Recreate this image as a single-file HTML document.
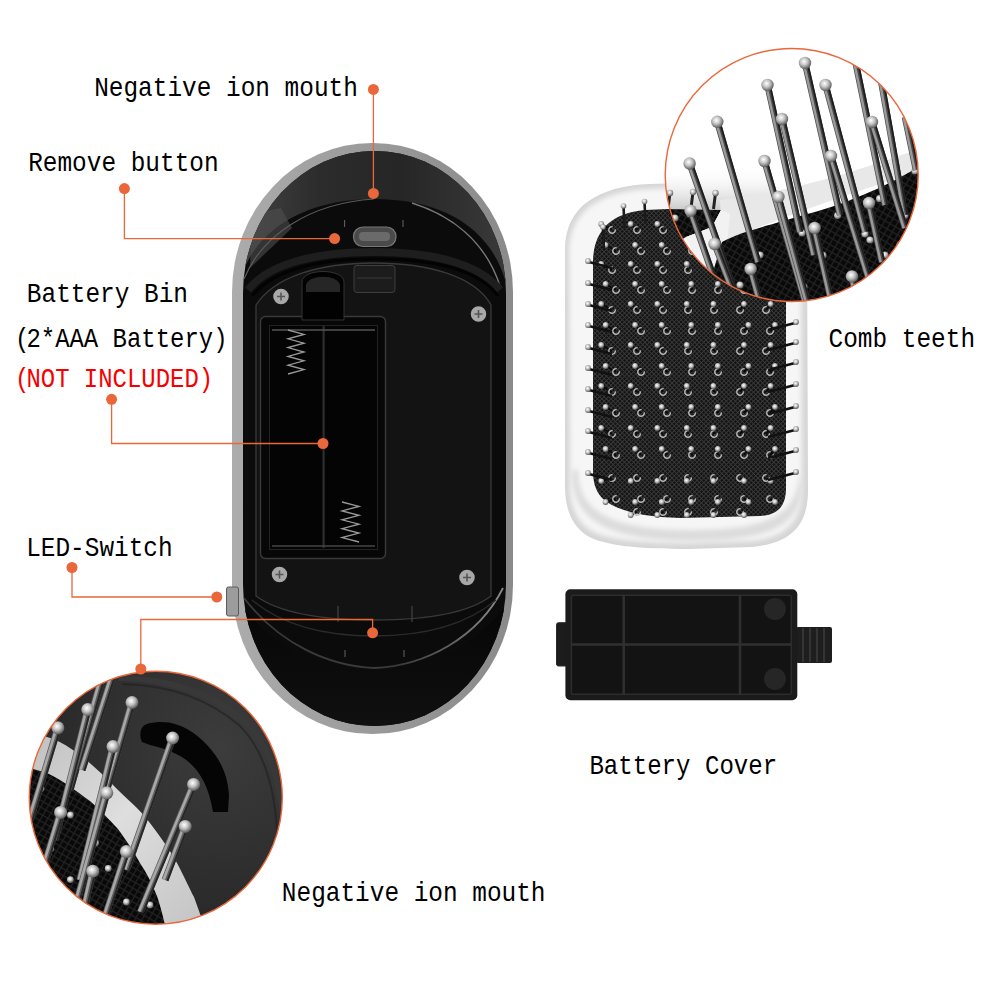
<!DOCTYPE html>
<html><head><meta charset="utf-8">
<style>
html,body{margin:0;padding:0;background:#fff;width:1000px;height:1000px;overflow:hidden}
svg{position:absolute;left:0;top:0;display:block}
text{font-family:"Liberation Mono",monospace;font-size:24px;white-space:pre}
</style></head><body>
<svg width="1000" height="1000" viewBox="0 0 1000 1000">

<defs>
  <linearGradient id="rimG" x1="0" y1="0" x2="1" y2="0">
    <stop offset="0" stop-color="#acacac"/><stop offset="0.5" stop-color="#9a9a9a"/><stop offset="1" stop-color="#8a8a8a"/>
  </linearGradient>
  <linearGradient id="domeG" x1="0" y1="0" x2="1" y2="0">
    <stop offset="0" stop-color="#444"/><stop offset="0.3" stop-color="#2c2c2c"/><stop offset="0.6" stop-color="#262626"/><stop offset="1" stop-color="#3a3a3a"/>
  </linearGradient>
  <linearGradient id="shellG" x1="0" y1="0" x2="0" y2="1">
    <stop offset="0" stop-color="#060606"/><stop offset="1" stop-color="#101010"/>
  </linearGradient>
  <pattern id="mesh" width="3.2" height="3.2" patternUnits="userSpaceOnUse" patternTransform="rotate(45)">
    <rect width="3.2" height="3.2" fill="#121212"/><rect width="3.2" height="0.9" fill="#3a3a3a"/><rect width="0.9" height="3.2" fill="#3a3a3a"/>
  </pattern>
  <pattern id="mesh2" width="6" height="6" patternUnits="userSpaceOnUse" patternTransform="rotate(30)">
    <rect width="6" height="6" fill="#080808"/><rect width="6" height="1.3" fill="#222"/><rect width="1.3" height="6" fill="#222"/>
  </pattern>
  <linearGradient id="frameG" x1="0" y1="0" x2="1" y2="0">
    <stop offset="0" stop-color="#cfcfcf"/><stop offset="0.07" stop-color="#f0f0f0"/><stop offset="0.93" stop-color="#f2f2f2"/><stop offset="1" stop-color="#d5d5d5"/>
  </linearGradient>
  <radialGradient id="ballG" cx="0.42" cy="0.38" r="0.65">
    <stop offset="0" stop-color="#ffffff"/><stop offset="0.45" stop-color="#c4c4c4"/><stop offset="1" stop-color="#505050"/>
  </radialGradient>
  <linearGradient id="bandG" x1="0" y1="0" x2="1" y2="1">
    <stop offset="0" stop-color="#bdbdbd"/><stop offset="0.5" stop-color="#dedede"/><stop offset="1" stop-color="#c4c4c4"/>
  </linearGradient>
  <linearGradient id="shadeG" x1="0" y1="0" x2="0" y2="1">
    <stop offset="0" stop-color="#ffffff" stop-opacity="0"/><stop offset="1" stop-color="#bdbdbd"/>
  </linearGradient>
  <radialGradient id="body2G" cx="0.75" cy="0.3" r="0.8">
    <stop offset="0" stop-color="#3c3c3c"/><stop offset="1" stop-color="#262626"/>
  </radialGradient>
  <filter id="blur2" x="-10%" y="-10%" width="120%" height="120%"><feGaussianBlur stdDeviation="2.5"/></filter>
  <linearGradient id="hlG" x1="0" y1="0" x2="1" y2="0"><stop offset="0" stop-color="#3a3a3a"/><stop offset="0.6" stop-color="#3a3a3a"/><stop offset="1" stop-color="#8a8a8a"/></linearGradient>
  <clipPath id="c1"><circle cx="791.7" cy="175" r="126.5"/></clipPath>
  <clipPath id="c2"><circle cx="155.8" cy="797.7" r="126.5"/></clipPath>
  <clipPath id="bodyClip"><rect x="243" y="151" width="263" height="575" rx="131" ry="142"/></clipPath>
</defs>
<g id="device">
  <rect x="232" y="143" width="281" height="591" rx="140" ry="149" fill="url(#rimG)"/>
  <rect x="243" y="151" width="263" height="575" rx="131" ry="142" fill="#0b0b0b"/>
  <g clip-path="url(#bodyClip)">
    <path d="M238 292 C246 235 300 199 374 199 C445 199 496 230 508 292 L510 140 L236 140 Z" fill="url(#domeG)"/>
    <path d="M252 214 L281 208 L292 228 L250 268 Z" fill="#4e4e4e" opacity="0.6"/>
    <path d="M244 279 C262 235 310 203 374 199" fill="none" stroke="#5a5a5a" stroke-width="1.2"/>
    <path d="M412 203 C450 215 485 240 500 286" fill="none" stroke="#777" stroke-width="1.5"/>
    <!-- lower shell -->
    <path d="M238 600 C275 655 330 668 374 668 C420 668 470 655 510 600 L510 730 L238 730 Z" fill="url(#shellG)"/>
    <path d="M244 598 C280 645 330 666 374 668 C425 666 478 638 503 588" fill="none" stroke="url(#hlG)" stroke-width="1.8"/>
  </g>
  <path d="M248 290 C270 262 320 252 374 252 C428 252 478 262 500 290" fill="none" stroke="#1e1e1e" stroke-width="8"/>
  <path d="M252 296 C275 268 320 259 374 259 C428 259 478 268 498 296" fill="none" stroke="#030303" stroke-width="3"/>
  <!-- plate -->
  <path d="M256 596 L256 305 C275 276 320 263 374 263 C428 263 475 276 491 305 L491 596 C470 612 430 620 374 620 C318 620 278 612 256 596 Z" fill="#131313" stroke="#3a3a3a" stroke-width="1.3"/>
  <path d="M252 600 C290 632 340 636 374 636 C410 636 460 630 496 600" fill="none" stroke="#2a2a2a" stroke-width="1.3"/>
  <!-- battery compartment -->
  <rect x="260.5" y="316.5" width="125" height="242" rx="5" fill="#070707" stroke="#3a3a3a" stroke-width="1.4"/>
  <rect x="269.5" y="325.5" width="108" height="224" fill="#040404" stroke="#222" stroke-width="1"/>
  <line x1="323.6" y1="326" x2="323.6" y2="548" stroke="#2e2e2e" stroke-width="2.2"/>
  <line x1="272" y1="330" x2="375" y2="330" stroke="#555" stroke-width="1.3"/>
  <line x1="272" y1="546" x2="375" y2="546" stroke="#444" stroke-width="1.3"/>
  <polyline points="288,330.0 304,334.4 288,338.8 304,343.2 288,347.6 304,352.0 288,356.4 304,360.8 288,365.2 304,369.6 288,374.0" fill="none" stroke="#9a9a9a" stroke-width="1.3"/>
  <polyline points="342,502.0 359,506.4 342,510.9 359,515.3 342,519.8 359,524.2 342,528.7 359,533.1 342,537.6 359,542.0" fill="none" stroke="#9a9a9a" stroke-width="1.3"/>
  <!-- latch notch -->
  <path d="M302 320 L302 282 C302 268 344 268 344 282 L344 320 Z" fill="#020202" stroke="#333" stroke-width="1"/>
  <path d="M306 285 C308 274 338 274 340 285 L340 292 L306 292 Z" fill="#262626"/>
  <!-- switch block -->
  <rect x="354" y="265.5" width="41" height="27" rx="3" fill="#1c1c1c" stroke="#3e3e3e" stroke-width="1"/>
  <line x1="357" y1="278" x2="392" y2="278" stroke="#3a3a3a" stroke-width="1"/>
  <!-- remove button -->
  <rect x="353.5" y="227" width="42.5" height="19.5" rx="9.5" fill="#4a4a4a" stroke="#777" stroke-width="1.2"/>
  <rect x="359" y="232" width="31" height="9" rx="4" fill="#6a6a6a"/>
  <line x1="344.6" y1="220" x2="344.6" y2="227" stroke="#666" stroke-width="1"/>
  <line x1="403" y1="220" x2="403" y2="227" stroke="#666" stroke-width="1"/>
  <!-- screws -->
  <g stroke="#151515" stroke-width="1.5" fill="#a8a8a8">
    <circle cx="281" cy="296.5" r="8.5"/><circle cx="478.5" cy="314" r="8.5"/>
    <circle cx="279.5" cy="574.5" r="8.5"/><circle cx="467" cy="577.5" r="8.5"/>
  </g>
  <g stroke="#555" stroke-width="1.6">
    <path d="M277 296.5 h8 M281 292.5 v8"/><path d="M474.5 314 h8 M478.5 310 v8"/>
    <path d="M275.5 574.5 h8 M279.5 570.5 v8"/><path d="M463 577.5 h8 M467 573.5 v8"/>
  </g>
  <!-- lower details -->
  <path d="M338 606 L338 622 M412 606 L412 622" stroke="#444" stroke-width="1.2"/>
  <path d="M345 650 L345 657 M404 650 L404 657" stroke="#555" stroke-width="1.2"/>
  <!-- LED switch -->
  <rect x="226.5" y="587" width="12" height="29" rx="2" fill="#9c9c9c" stroke="#5a5a5a" stroke-width="1"/>
</g>
<g id="comb">
<path d="M565 250 C565 205 600 186 650 184 L770 180 C795 180 807 200 807 230 L808 490 C808 525 792 543 752 547 L690 549 C640 549 603 546 586 535 C572 525 565 510 565 485 Z" fill="#d6d6d6"/>
<path d="M569 252 C569 210 602 191 650 189 L768 185 C790 185 801 203 801 230 L802 488 C802 520 788 537 752 541 L690 543 C642 543 606 540 590 530 C577 521 570 507 570 485 Z" fill="#f6f6f6" filter="url(#blur2)"/>
<path d="M572 470 C572 510 590 540 690 541 C760 541 800 530 802 488 L800 470 C798 515 770 530 690 530 C600 530 578 505 578 470 Z" fill="#dcdcdc" filter="url(#blur2)"/>
<path d="M593 262 C593 232 610 213 645 210 L758 205 C777 205 786 218 786 238 L786 488 C786 506 778 515 760 516 L680 518 C640 517 615 510 602 498 C595 490 593 482 593 470 Z" fill="url(#mesh)"/>
<line x1="612.0" y1="230.0" x2="601.2" y2="224.0" stroke="#0a0a0a" stroke-width="2"/>
<path d="M615.3 229.4 A3.3 3.3 0 1 1 612.6 226.7" fill="none" stroke="#b8b8b8" stroke-width="1.4"/>
<circle cx="601.2" cy="224.0" r="2.9" fill="url(#ballG)"/>
<line x1="637.0" y1="230.0" x2="630.7" y2="224.0" stroke="#0a0a0a" stroke-width="2"/>
<path d="M640.3 229.4 A3.3 3.3 0 1 1 637.6 226.7" fill="none" stroke="#b8b8b8" stroke-width="1.4"/>
<circle cx="630.7" cy="224.0" r="2.9" fill="url(#ballG)"/>
<line x1="663.0" y1="230.0" x2="657.3" y2="224.0" stroke="#0a0a0a" stroke-width="2"/>
<path d="M666.3 229.4 A3.3 3.3 0 1 1 663.6 226.7" fill="none" stroke="#b8b8b8" stroke-width="1.4"/>
<circle cx="657.3" cy="224.0" r="2.9" fill="url(#ballG)"/>
<line x1="688.0" y1="230.0" x2="686.8" y2="224.0" stroke="#0a0a0a" stroke-width="2"/>
<path d="M691.3 229.4 A3.3 3.3 0 1 1 688.6 226.7" fill="none" stroke="#b8b8b8" stroke-width="1.4"/>
<circle cx="686.8" cy="224.0" r="2.9" fill="url(#ballG)"/>
<line x1="616.0" y1="251.0" x2="605.6" y2="245.0" stroke="#0a0a0a" stroke-width="2"/>
<path d="M619.3 250.4 A3.3 3.3 0 1 1 616.6 247.7" fill="none" stroke="#b8b8b8" stroke-width="1.4"/>
<circle cx="605.6" cy="245.0" r="2.9" fill="url(#ballG)"/>
<line x1="641.0" y1="251.0" x2="635.1" y2="245.0" stroke="#0a0a0a" stroke-width="2"/>
<path d="M644.3 250.4 A3.3 3.3 0 1 1 641.6 247.7" fill="none" stroke="#b8b8b8" stroke-width="1.4"/>
<circle cx="635.1" cy="245.0" r="2.9" fill="url(#ballG)"/>
<line x1="667.0" y1="251.0" x2="661.7" y2="245.0" stroke="#0a0a0a" stroke-width="2"/>
<path d="M670.3 250.4 A3.3 3.3 0 1 1 667.6 247.7" fill="none" stroke="#b8b8b8" stroke-width="1.4"/>
<circle cx="661.7" cy="245.0" r="2.9" fill="url(#ballG)"/>
<line x1="692.0" y1="251.0" x2="691.2" y2="245.0" stroke="#0a0a0a" stroke-width="2"/>
<path d="M695.3 250.4 A3.3 3.3 0 1 1 692.6 247.7" fill="none" stroke="#b8b8b8" stroke-width="1.4"/>
<circle cx="691.2" cy="245.0" r="2.9" fill="url(#ballG)"/>
<line x1="718.0" y1="251.0" x2="717.8" y2="245.0" stroke="#0a0a0a" stroke-width="2"/>
<path d="M721.3 250.4 A3.3 3.3 0 1 1 718.6 247.7" fill="none" stroke="#b8b8b8" stroke-width="1.4"/>
<circle cx="717.8" cy="245.0" r="2.9" fill="url(#ballG)"/>
<line x1="744.0" y1="251.0" x2="748.4" y2="245.0" stroke="#0a0a0a" stroke-width="2"/>
<path d="M747.3 250.4 A3.3 3.3 0 1 1 744.6 247.7" fill="none" stroke="#b8b8b8" stroke-width="1.4"/>
<circle cx="748.4" cy="245.0" r="2.9" fill="url(#ballG)"/>
<line x1="770.0" y1="251.0" x2="775.0" y2="245.0" stroke="#0a0a0a" stroke-width="2"/>
<path d="M773.3 250.4 A3.3 3.3 0 1 1 770.6 247.7" fill="none" stroke="#b8b8b8" stroke-width="1.4"/>
<circle cx="775.0" cy="245.0" r="2.9" fill="url(#ballG)"/>
<line x1="612.0" y1="270.0" x2="601.2" y2="264.0" stroke="#0a0a0a" stroke-width="2"/>
<path d="M615.3 269.4 A3.3 3.3 0 1 1 612.6 266.7" fill="none" stroke="#b8b8b8" stroke-width="1.4"/>
<circle cx="601.2" cy="264.0" r="2.9" fill="url(#ballG)"/>
<line x1="637.0" y1="270.0" x2="630.7" y2="264.0" stroke="#0a0a0a" stroke-width="2"/>
<path d="M640.3 269.4 A3.3 3.3 0 1 1 637.6 266.7" fill="none" stroke="#b8b8b8" stroke-width="1.4"/>
<circle cx="630.7" cy="264.0" r="2.9" fill="url(#ballG)"/>
<line x1="663.0" y1="270.0" x2="657.3" y2="264.0" stroke="#0a0a0a" stroke-width="2"/>
<path d="M666.3 269.4 A3.3 3.3 0 1 1 663.6 266.7" fill="none" stroke="#b8b8b8" stroke-width="1.4"/>
<circle cx="657.3" cy="264.0" r="2.9" fill="url(#ballG)"/>
<line x1="688.0" y1="270.0" x2="686.8" y2="264.0" stroke="#0a0a0a" stroke-width="2"/>
<path d="M691.3 269.4 A3.3 3.3 0 1 1 688.6 266.7" fill="none" stroke="#b8b8b8" stroke-width="1.4"/>
<circle cx="686.8" cy="264.0" r="2.9" fill="url(#ballG)"/>
<line x1="714.0" y1="270.0" x2="713.4" y2="264.0" stroke="#0a0a0a" stroke-width="2"/>
<path d="M717.3 269.4 A3.3 3.3 0 1 1 714.6 266.7" fill="none" stroke="#b8b8b8" stroke-width="1.4"/>
<circle cx="713.4" cy="264.0" r="2.9" fill="url(#ballG)"/>
<line x1="740.0" y1="270.0" x2="744.0" y2="264.0" stroke="#0a0a0a" stroke-width="2"/>
<path d="M743.3 269.4 A3.3 3.3 0 1 1 740.6 266.7" fill="none" stroke="#b8b8b8" stroke-width="1.4"/>
<circle cx="744.0" cy="264.0" r="2.9" fill="url(#ballG)"/>
<line x1="766.0" y1="270.0" x2="770.6" y2="264.0" stroke="#0a0a0a" stroke-width="2"/>
<path d="M769.3 269.4 A3.3 3.3 0 1 1 766.6 266.7" fill="none" stroke="#b8b8b8" stroke-width="1.4"/>
<circle cx="770.6" cy="264.0" r="2.9" fill="url(#ballG)"/>
<line x1="616.0" y1="290.0" x2="605.6" y2="284.0" stroke="#0a0a0a" stroke-width="2"/>
<path d="M619.3 289.4 A3.3 3.3 0 1 1 616.6 286.7" fill="none" stroke="#b8b8b8" stroke-width="1.4"/>
<circle cx="605.6" cy="284.0" r="2.9" fill="url(#ballG)"/>
<line x1="641.0" y1="290.0" x2="635.1" y2="284.0" stroke="#0a0a0a" stroke-width="2"/>
<path d="M644.3 289.4 A3.3 3.3 0 1 1 641.6 286.7" fill="none" stroke="#b8b8b8" stroke-width="1.4"/>
<circle cx="635.1" cy="284.0" r="2.9" fill="url(#ballG)"/>
<line x1="667.0" y1="290.0" x2="661.7" y2="284.0" stroke="#0a0a0a" stroke-width="2"/>
<path d="M670.3 289.4 A3.3 3.3 0 1 1 667.6 286.7" fill="none" stroke="#b8b8b8" stroke-width="1.4"/>
<circle cx="661.7" cy="284.0" r="2.9" fill="url(#ballG)"/>
<line x1="692.0" y1="290.0" x2="691.2" y2="284.0" stroke="#0a0a0a" stroke-width="2"/>
<path d="M695.3 289.4 A3.3 3.3 0 1 1 692.6 286.7" fill="none" stroke="#b8b8b8" stroke-width="1.4"/>
<circle cx="691.2" cy="284.0" r="2.9" fill="url(#ballG)"/>
<line x1="718.0" y1="290.0" x2="717.8" y2="284.0" stroke="#0a0a0a" stroke-width="2"/>
<path d="M721.3 289.4 A3.3 3.3 0 1 1 718.6 286.7" fill="none" stroke="#b8b8b8" stroke-width="1.4"/>
<circle cx="717.8" cy="284.0" r="2.9" fill="url(#ballG)"/>
<line x1="744.0" y1="290.0" x2="748.4" y2="284.0" stroke="#0a0a0a" stroke-width="2"/>
<path d="M747.3 289.4 A3.3 3.3 0 1 1 744.6 286.7" fill="none" stroke="#b8b8b8" stroke-width="1.4"/>
<circle cx="748.4" cy="284.0" r="2.9" fill="url(#ballG)"/>
<line x1="770.0" y1="290.0" x2="775.0" y2="284.0" stroke="#0a0a0a" stroke-width="2"/>
<path d="M773.3 289.4 A3.3 3.3 0 1 1 770.6 286.7" fill="none" stroke="#b8b8b8" stroke-width="1.4"/>
<circle cx="775.0" cy="284.0" r="2.9" fill="url(#ballG)"/>
<line x1="612.0" y1="310.0" x2="601.2" y2="304.0" stroke="#0a0a0a" stroke-width="2"/>
<path d="M615.3 309.4 A3.3 3.3 0 1 1 612.6 306.7" fill="none" stroke="#b8b8b8" stroke-width="1.4"/>
<circle cx="601.2" cy="304.0" r="2.9" fill="url(#ballG)"/>
<line x1="637.0" y1="310.0" x2="630.7" y2="304.0" stroke="#0a0a0a" stroke-width="2"/>
<path d="M640.3 309.4 A3.3 3.3 0 1 1 637.6 306.7" fill="none" stroke="#b8b8b8" stroke-width="1.4"/>
<circle cx="630.7" cy="304.0" r="2.9" fill="url(#ballG)"/>
<line x1="663.0" y1="310.0" x2="657.3" y2="304.0" stroke="#0a0a0a" stroke-width="2"/>
<path d="M666.3 309.4 A3.3 3.3 0 1 1 663.6 306.7" fill="none" stroke="#b8b8b8" stroke-width="1.4"/>
<circle cx="657.3" cy="304.0" r="2.9" fill="url(#ballG)"/>
<line x1="688.0" y1="310.0" x2="686.8" y2="304.0" stroke="#0a0a0a" stroke-width="2"/>
<path d="M691.3 309.4 A3.3 3.3 0 1 1 688.6 306.7" fill="none" stroke="#b8b8b8" stroke-width="1.4"/>
<circle cx="686.8" cy="304.0" r="2.9" fill="url(#ballG)"/>
<line x1="714.0" y1="310.0" x2="713.4" y2="304.0" stroke="#0a0a0a" stroke-width="2"/>
<path d="M717.3 309.4 A3.3 3.3 0 1 1 714.6 306.7" fill="none" stroke="#b8b8b8" stroke-width="1.4"/>
<circle cx="713.4" cy="304.0" r="2.9" fill="url(#ballG)"/>
<line x1="740.0" y1="310.0" x2="744.0" y2="304.0" stroke="#0a0a0a" stroke-width="2"/>
<path d="M743.3 309.4 A3.3 3.3 0 1 1 740.6 306.7" fill="none" stroke="#b8b8b8" stroke-width="1.4"/>
<circle cx="744.0" cy="304.0" r="2.9" fill="url(#ballG)"/>
<line x1="766.0" y1="310.0" x2="770.6" y2="304.0" stroke="#0a0a0a" stroke-width="2"/>
<path d="M769.3 309.4 A3.3 3.3 0 1 1 766.6 306.7" fill="none" stroke="#b8b8b8" stroke-width="1.4"/>
<circle cx="770.6" cy="304.0" r="2.9" fill="url(#ballG)"/>
<line x1="616.0" y1="331.0" x2="605.6" y2="325.0" stroke="#0a0a0a" stroke-width="2"/>
<path d="M619.3 330.4 A3.3 3.3 0 1 1 616.6 327.7" fill="none" stroke="#b8b8b8" stroke-width="1.4"/>
<circle cx="605.6" cy="325.0" r="2.9" fill="url(#ballG)"/>
<line x1="641.0" y1="331.0" x2="635.1" y2="325.0" stroke="#0a0a0a" stroke-width="2"/>
<path d="M644.3 330.4 A3.3 3.3 0 1 1 641.6 327.7" fill="none" stroke="#b8b8b8" stroke-width="1.4"/>
<circle cx="635.1" cy="325.0" r="2.9" fill="url(#ballG)"/>
<line x1="667.0" y1="331.0" x2="661.7" y2="325.0" stroke="#0a0a0a" stroke-width="2"/>
<path d="M670.3 330.4 A3.3 3.3 0 1 1 667.6 327.7" fill="none" stroke="#b8b8b8" stroke-width="1.4"/>
<circle cx="661.7" cy="325.0" r="2.9" fill="url(#ballG)"/>
<line x1="692.0" y1="331.0" x2="691.2" y2="325.0" stroke="#0a0a0a" stroke-width="2"/>
<path d="M695.3 330.4 A3.3 3.3 0 1 1 692.6 327.7" fill="none" stroke="#b8b8b8" stroke-width="1.4"/>
<circle cx="691.2" cy="325.0" r="2.9" fill="url(#ballG)"/>
<line x1="718.0" y1="331.0" x2="717.8" y2="325.0" stroke="#0a0a0a" stroke-width="2"/>
<path d="M721.3 330.4 A3.3 3.3 0 1 1 718.6 327.7" fill="none" stroke="#b8b8b8" stroke-width="1.4"/>
<circle cx="717.8" cy="325.0" r="2.9" fill="url(#ballG)"/>
<line x1="744.0" y1="331.0" x2="748.4" y2="325.0" stroke="#0a0a0a" stroke-width="2"/>
<path d="M747.3 330.4 A3.3 3.3 0 1 1 744.6 327.7" fill="none" stroke="#b8b8b8" stroke-width="1.4"/>
<circle cx="748.4" cy="325.0" r="2.9" fill="url(#ballG)"/>
<line x1="770.0" y1="331.0" x2="775.0" y2="325.0" stroke="#0a0a0a" stroke-width="2"/>
<path d="M773.3 330.4 A3.3 3.3 0 1 1 770.6 327.7" fill="none" stroke="#b8b8b8" stroke-width="1.4"/>
<circle cx="775.0" cy="325.0" r="2.9" fill="url(#ballG)"/>
<line x1="612.0" y1="351.0" x2="601.2" y2="345.0" stroke="#0a0a0a" stroke-width="2"/>
<path d="M615.3 350.4 A3.3 3.3 0 1 1 612.6 347.7" fill="none" stroke="#b8b8b8" stroke-width="1.4"/>
<circle cx="601.2" cy="345.0" r="2.9" fill="url(#ballG)"/>
<line x1="637.0" y1="351.0" x2="630.7" y2="345.0" stroke="#0a0a0a" stroke-width="2"/>
<path d="M640.3 350.4 A3.3 3.3 0 1 1 637.6 347.7" fill="none" stroke="#b8b8b8" stroke-width="1.4"/>
<circle cx="630.7" cy="345.0" r="2.9" fill="url(#ballG)"/>
<line x1="663.0" y1="351.0" x2="657.3" y2="345.0" stroke="#0a0a0a" stroke-width="2"/>
<path d="M666.3 350.4 A3.3 3.3 0 1 1 663.6 347.7" fill="none" stroke="#b8b8b8" stroke-width="1.4"/>
<circle cx="657.3" cy="345.0" r="2.9" fill="url(#ballG)"/>
<line x1="688.0" y1="351.0" x2="686.8" y2="345.0" stroke="#0a0a0a" stroke-width="2"/>
<path d="M691.3 350.4 A3.3 3.3 0 1 1 688.6 347.7" fill="none" stroke="#b8b8b8" stroke-width="1.4"/>
<circle cx="686.8" cy="345.0" r="2.9" fill="url(#ballG)"/>
<line x1="714.0" y1="351.0" x2="713.4" y2="345.0" stroke="#0a0a0a" stroke-width="2"/>
<path d="M717.3 350.4 A3.3 3.3 0 1 1 714.6 347.7" fill="none" stroke="#b8b8b8" stroke-width="1.4"/>
<circle cx="713.4" cy="345.0" r="2.9" fill="url(#ballG)"/>
<line x1="740.0" y1="351.0" x2="744.0" y2="345.0" stroke="#0a0a0a" stroke-width="2"/>
<path d="M743.3 350.4 A3.3 3.3 0 1 1 740.6 347.7" fill="none" stroke="#b8b8b8" stroke-width="1.4"/>
<circle cx="744.0" cy="345.0" r="2.9" fill="url(#ballG)"/>
<line x1="766.0" y1="351.0" x2="770.6" y2="345.0" stroke="#0a0a0a" stroke-width="2"/>
<path d="M769.3 350.4 A3.3 3.3 0 1 1 766.6 347.7" fill="none" stroke="#b8b8b8" stroke-width="1.4"/>
<circle cx="770.6" cy="345.0" r="2.9" fill="url(#ballG)"/>
<line x1="616.0" y1="372.0" x2="605.6" y2="366.0" stroke="#0a0a0a" stroke-width="2"/>
<path d="M619.3 371.4 A3.3 3.3 0 1 1 616.6 368.7" fill="none" stroke="#b8b8b8" stroke-width="1.4"/>
<circle cx="605.6" cy="366.0" r="2.9" fill="url(#ballG)"/>
<line x1="641.0" y1="372.0" x2="635.1" y2="366.0" stroke="#0a0a0a" stroke-width="2"/>
<path d="M644.3 371.4 A3.3 3.3 0 1 1 641.6 368.7" fill="none" stroke="#b8b8b8" stroke-width="1.4"/>
<circle cx="635.1" cy="366.0" r="2.9" fill="url(#ballG)"/>
<line x1="667.0" y1="372.0" x2="661.7" y2="366.0" stroke="#0a0a0a" stroke-width="2"/>
<path d="M670.3 371.4 A3.3 3.3 0 1 1 667.6 368.7" fill="none" stroke="#b8b8b8" stroke-width="1.4"/>
<circle cx="661.7" cy="366.0" r="2.9" fill="url(#ballG)"/>
<line x1="692.0" y1="372.0" x2="691.2" y2="366.0" stroke="#0a0a0a" stroke-width="2"/>
<path d="M695.3 371.4 A3.3 3.3 0 1 1 692.6 368.7" fill="none" stroke="#b8b8b8" stroke-width="1.4"/>
<circle cx="691.2" cy="366.0" r="2.9" fill="url(#ballG)"/>
<line x1="718.0" y1="372.0" x2="717.8" y2="366.0" stroke="#0a0a0a" stroke-width="2"/>
<path d="M721.3 371.4 A3.3 3.3 0 1 1 718.6 368.7" fill="none" stroke="#b8b8b8" stroke-width="1.4"/>
<circle cx="717.8" cy="366.0" r="2.9" fill="url(#ballG)"/>
<line x1="744.0" y1="372.0" x2="748.4" y2="366.0" stroke="#0a0a0a" stroke-width="2"/>
<path d="M747.3 371.4 A3.3 3.3 0 1 1 744.6 368.7" fill="none" stroke="#b8b8b8" stroke-width="1.4"/>
<circle cx="748.4" cy="366.0" r="2.9" fill="url(#ballG)"/>
<line x1="770.0" y1="372.0" x2="775.0" y2="366.0" stroke="#0a0a0a" stroke-width="2"/>
<path d="M773.3 371.4 A3.3 3.3 0 1 1 770.6 368.7" fill="none" stroke="#b8b8b8" stroke-width="1.4"/>
<circle cx="775.0" cy="366.0" r="2.9" fill="url(#ballG)"/>
<line x1="612.0" y1="392.0" x2="601.2" y2="386.0" stroke="#0a0a0a" stroke-width="2"/>
<path d="M615.3 391.4 A3.3 3.3 0 1 1 612.6 388.7" fill="none" stroke="#b8b8b8" stroke-width="1.4"/>
<circle cx="601.2" cy="386.0" r="2.9" fill="url(#ballG)"/>
<line x1="637.0" y1="392.0" x2="630.7" y2="386.0" stroke="#0a0a0a" stroke-width="2"/>
<path d="M640.3 391.4 A3.3 3.3 0 1 1 637.6 388.7" fill="none" stroke="#b8b8b8" stroke-width="1.4"/>
<circle cx="630.7" cy="386.0" r="2.9" fill="url(#ballG)"/>
<line x1="663.0" y1="392.0" x2="657.3" y2="386.0" stroke="#0a0a0a" stroke-width="2"/>
<path d="M666.3 391.4 A3.3 3.3 0 1 1 663.6 388.7" fill="none" stroke="#b8b8b8" stroke-width="1.4"/>
<circle cx="657.3" cy="386.0" r="2.9" fill="url(#ballG)"/>
<line x1="688.0" y1="392.0" x2="686.8" y2="386.0" stroke="#0a0a0a" stroke-width="2"/>
<path d="M691.3 391.4 A3.3 3.3 0 1 1 688.6 388.7" fill="none" stroke="#b8b8b8" stroke-width="1.4"/>
<circle cx="686.8" cy="386.0" r="2.9" fill="url(#ballG)"/>
<line x1="714.0" y1="392.0" x2="713.4" y2="386.0" stroke="#0a0a0a" stroke-width="2"/>
<path d="M717.3 391.4 A3.3 3.3 0 1 1 714.6 388.7" fill="none" stroke="#b8b8b8" stroke-width="1.4"/>
<circle cx="713.4" cy="386.0" r="2.9" fill="url(#ballG)"/>
<line x1="740.0" y1="392.0" x2="744.0" y2="386.0" stroke="#0a0a0a" stroke-width="2"/>
<path d="M743.3 391.4 A3.3 3.3 0 1 1 740.6 388.7" fill="none" stroke="#b8b8b8" stroke-width="1.4"/>
<circle cx="744.0" cy="386.0" r="2.9" fill="url(#ballG)"/>
<line x1="766.0" y1="392.0" x2="770.6" y2="386.0" stroke="#0a0a0a" stroke-width="2"/>
<path d="M769.3 391.4 A3.3 3.3 0 1 1 766.6 388.7" fill="none" stroke="#b8b8b8" stroke-width="1.4"/>
<circle cx="770.6" cy="386.0" r="2.9" fill="url(#ballG)"/>
<line x1="616.0" y1="413.0" x2="605.6" y2="407.0" stroke="#0a0a0a" stroke-width="2"/>
<path d="M619.3 412.4 A3.3 3.3 0 1 1 616.6 409.7" fill="none" stroke="#b8b8b8" stroke-width="1.4"/>
<circle cx="605.6" cy="407.0" r="2.9" fill="url(#ballG)"/>
<line x1="641.0" y1="413.0" x2="635.1" y2="407.0" stroke="#0a0a0a" stroke-width="2"/>
<path d="M644.3 412.4 A3.3 3.3 0 1 1 641.6 409.7" fill="none" stroke="#b8b8b8" stroke-width="1.4"/>
<circle cx="635.1" cy="407.0" r="2.9" fill="url(#ballG)"/>
<line x1="667.0" y1="413.0" x2="661.7" y2="407.0" stroke="#0a0a0a" stroke-width="2"/>
<path d="M670.3 412.4 A3.3 3.3 0 1 1 667.6 409.7" fill="none" stroke="#b8b8b8" stroke-width="1.4"/>
<circle cx="661.7" cy="407.0" r="2.9" fill="url(#ballG)"/>
<line x1="692.0" y1="413.0" x2="691.2" y2="407.0" stroke="#0a0a0a" stroke-width="2"/>
<path d="M695.3 412.4 A3.3 3.3 0 1 1 692.6 409.7" fill="none" stroke="#b8b8b8" stroke-width="1.4"/>
<circle cx="691.2" cy="407.0" r="2.9" fill="url(#ballG)"/>
<line x1="718.0" y1="413.0" x2="717.8" y2="407.0" stroke="#0a0a0a" stroke-width="2"/>
<path d="M721.3 412.4 A3.3 3.3 0 1 1 718.6 409.7" fill="none" stroke="#b8b8b8" stroke-width="1.4"/>
<circle cx="717.8" cy="407.0" r="2.9" fill="url(#ballG)"/>
<line x1="744.0" y1="413.0" x2="748.4" y2="407.0" stroke="#0a0a0a" stroke-width="2"/>
<path d="M747.3 412.4 A3.3 3.3 0 1 1 744.6 409.7" fill="none" stroke="#b8b8b8" stroke-width="1.4"/>
<circle cx="748.4" cy="407.0" r="2.9" fill="url(#ballG)"/>
<line x1="770.0" y1="413.0" x2="775.0" y2="407.0" stroke="#0a0a0a" stroke-width="2"/>
<path d="M773.3 412.4 A3.3 3.3 0 1 1 770.6 409.7" fill="none" stroke="#b8b8b8" stroke-width="1.4"/>
<circle cx="775.0" cy="407.0" r="2.9" fill="url(#ballG)"/>
<line x1="612.0" y1="434.0" x2="601.2" y2="428.0" stroke="#0a0a0a" stroke-width="2"/>
<path d="M615.3 433.4 A3.3 3.3 0 1 1 612.6 430.7" fill="none" stroke="#b8b8b8" stroke-width="1.4"/>
<circle cx="601.2" cy="428.0" r="2.9" fill="url(#ballG)"/>
<line x1="637.0" y1="434.0" x2="630.7" y2="428.0" stroke="#0a0a0a" stroke-width="2"/>
<path d="M640.3 433.4 A3.3 3.3 0 1 1 637.6 430.7" fill="none" stroke="#b8b8b8" stroke-width="1.4"/>
<circle cx="630.7" cy="428.0" r="2.9" fill="url(#ballG)"/>
<line x1="663.0" y1="434.0" x2="657.3" y2="428.0" stroke="#0a0a0a" stroke-width="2"/>
<path d="M666.3 433.4 A3.3 3.3 0 1 1 663.6 430.7" fill="none" stroke="#b8b8b8" stroke-width="1.4"/>
<circle cx="657.3" cy="428.0" r="2.9" fill="url(#ballG)"/>
<line x1="688.0" y1="434.0" x2="686.8" y2="428.0" stroke="#0a0a0a" stroke-width="2"/>
<path d="M691.3 433.4 A3.3 3.3 0 1 1 688.6 430.7" fill="none" stroke="#b8b8b8" stroke-width="1.4"/>
<circle cx="686.8" cy="428.0" r="2.9" fill="url(#ballG)"/>
<line x1="714.0" y1="434.0" x2="713.4" y2="428.0" stroke="#0a0a0a" stroke-width="2"/>
<path d="M717.3 433.4 A3.3 3.3 0 1 1 714.6 430.7" fill="none" stroke="#b8b8b8" stroke-width="1.4"/>
<circle cx="713.4" cy="428.0" r="2.9" fill="url(#ballG)"/>
<line x1="740.0" y1="434.0" x2="744.0" y2="428.0" stroke="#0a0a0a" stroke-width="2"/>
<path d="M743.3 433.4 A3.3 3.3 0 1 1 740.6 430.7" fill="none" stroke="#b8b8b8" stroke-width="1.4"/>
<circle cx="744.0" cy="428.0" r="2.9" fill="url(#ballG)"/>
<line x1="766.0" y1="434.0" x2="770.6" y2="428.0" stroke="#0a0a0a" stroke-width="2"/>
<path d="M769.3 433.4 A3.3 3.3 0 1 1 766.6 430.7" fill="none" stroke="#b8b8b8" stroke-width="1.4"/>
<circle cx="770.6" cy="428.0" r="2.9" fill="url(#ballG)"/>
<line x1="616.0" y1="455.0" x2="605.6" y2="449.0" stroke="#0a0a0a" stroke-width="2"/>
<path d="M619.3 454.4 A3.3 3.3 0 1 1 616.6 451.7" fill="none" stroke="#b8b8b8" stroke-width="1.4"/>
<circle cx="605.6" cy="449.0" r="2.9" fill="url(#ballG)"/>
<line x1="641.0" y1="455.0" x2="635.1" y2="449.0" stroke="#0a0a0a" stroke-width="2"/>
<path d="M644.3 454.4 A3.3 3.3 0 1 1 641.6 451.7" fill="none" stroke="#b8b8b8" stroke-width="1.4"/>
<circle cx="635.1" cy="449.0" r="2.9" fill="url(#ballG)"/>
<line x1="667.0" y1="455.0" x2="661.7" y2="449.0" stroke="#0a0a0a" stroke-width="2"/>
<path d="M670.3 454.4 A3.3 3.3 0 1 1 667.6 451.7" fill="none" stroke="#b8b8b8" stroke-width="1.4"/>
<circle cx="661.7" cy="449.0" r="2.9" fill="url(#ballG)"/>
<line x1="692.0" y1="455.0" x2="691.2" y2="449.0" stroke="#0a0a0a" stroke-width="2"/>
<path d="M695.3 454.4 A3.3 3.3 0 1 1 692.6 451.7" fill="none" stroke="#b8b8b8" stroke-width="1.4"/>
<circle cx="691.2" cy="449.0" r="2.9" fill="url(#ballG)"/>
<line x1="718.0" y1="455.0" x2="717.8" y2="449.0" stroke="#0a0a0a" stroke-width="2"/>
<path d="M721.3 454.4 A3.3 3.3 0 1 1 718.6 451.7" fill="none" stroke="#b8b8b8" stroke-width="1.4"/>
<circle cx="717.8" cy="449.0" r="2.9" fill="url(#ballG)"/>
<line x1="744.0" y1="455.0" x2="748.4" y2="449.0" stroke="#0a0a0a" stroke-width="2"/>
<path d="M747.3 454.4 A3.3 3.3 0 1 1 744.6 451.7" fill="none" stroke="#b8b8b8" stroke-width="1.4"/>
<circle cx="748.4" cy="449.0" r="2.9" fill="url(#ballG)"/>
<line x1="770.0" y1="455.0" x2="775.0" y2="449.0" stroke="#0a0a0a" stroke-width="2"/>
<path d="M773.3 454.4 A3.3 3.3 0 1 1 770.6 451.7" fill="none" stroke="#b8b8b8" stroke-width="1.4"/>
<circle cx="775.0" cy="449.0" r="2.9" fill="url(#ballG)"/>
<line x1="612.0" y1="478.0" x2="601.2" y2="481.0" stroke="#0a0a0a" stroke-width="2"/>
<path d="M615.3 477.4 A3.3 3.3 0 1 1 612.6 474.7" fill="none" stroke="#b8b8b8" stroke-width="1.4"/>
<circle cx="601.2" cy="481.0" r="2.9" fill="url(#ballG)"/>
<line x1="637.0" y1="478.0" x2="630.7" y2="481.0" stroke="#0a0a0a" stroke-width="2"/>
<path d="M640.3 477.4 A3.3 3.3 0 1 1 637.6 474.7" fill="none" stroke="#b8b8b8" stroke-width="1.4"/>
<circle cx="630.7" cy="481.0" r="2.9" fill="url(#ballG)"/>
<line x1="663.0" y1="478.0" x2="657.3" y2="481.0" stroke="#0a0a0a" stroke-width="2"/>
<path d="M666.3 477.4 A3.3 3.3 0 1 1 663.6 474.7" fill="none" stroke="#b8b8b8" stroke-width="1.4"/>
<circle cx="657.3" cy="481.0" r="2.9" fill="url(#ballG)"/>
<line x1="688.0" y1="478.0" x2="686.8" y2="481.0" stroke="#0a0a0a" stroke-width="2"/>
<path d="M691.3 477.4 A3.3 3.3 0 1 1 688.6 474.7" fill="none" stroke="#b8b8b8" stroke-width="1.4"/>
<circle cx="686.8" cy="481.0" r="2.9" fill="url(#ballG)"/>
<line x1="714.0" y1="478.0" x2="713.4" y2="481.0" stroke="#0a0a0a" stroke-width="2"/>
<path d="M717.3 477.4 A3.3 3.3 0 1 1 714.6 474.7" fill="none" stroke="#b8b8b8" stroke-width="1.4"/>
<circle cx="713.4" cy="481.0" r="2.9" fill="url(#ballG)"/>
<line x1="740.0" y1="478.0" x2="744.0" y2="481.0" stroke="#0a0a0a" stroke-width="2"/>
<path d="M743.3 477.4 A3.3 3.3 0 1 1 740.6 474.7" fill="none" stroke="#b8b8b8" stroke-width="1.4"/>
<circle cx="744.0" cy="481.0" r="2.9" fill="url(#ballG)"/>
<line x1="766.0" y1="478.0" x2="770.6" y2="481.0" stroke="#0a0a0a" stroke-width="2"/>
<path d="M769.3 477.4 A3.3 3.3 0 1 1 766.6 474.7" fill="none" stroke="#b8b8b8" stroke-width="1.4"/>
<circle cx="770.6" cy="481.0" r="2.9" fill="url(#ballG)"/>
<line x1="616.0" y1="499.0" x2="605.6" y2="502.0" stroke="#0a0a0a" stroke-width="2"/>
<path d="M619.3 498.4 A3.3 3.3 0 1 1 616.6 495.7" fill="none" stroke="#b8b8b8" stroke-width="1.4"/>
<circle cx="605.6" cy="502.0" r="2.9" fill="url(#ballG)"/>
<line x1="641.0" y1="499.0" x2="635.1" y2="502.0" stroke="#0a0a0a" stroke-width="2"/>
<path d="M644.3 498.4 A3.3 3.3 0 1 1 641.6 495.7" fill="none" stroke="#b8b8b8" stroke-width="1.4"/>
<circle cx="635.1" cy="502.0" r="2.9" fill="url(#ballG)"/>
<line x1="667.0" y1="499.0" x2="661.7" y2="502.0" stroke="#0a0a0a" stroke-width="2"/>
<path d="M670.3 498.4 A3.3 3.3 0 1 1 667.6 495.7" fill="none" stroke="#b8b8b8" stroke-width="1.4"/>
<circle cx="661.7" cy="502.0" r="2.9" fill="url(#ballG)"/>
<line x1="692.0" y1="499.0" x2="691.2" y2="502.0" stroke="#0a0a0a" stroke-width="2"/>
<path d="M695.3 498.4 A3.3 3.3 0 1 1 692.6 495.7" fill="none" stroke="#b8b8b8" stroke-width="1.4"/>
<circle cx="691.2" cy="502.0" r="2.9" fill="url(#ballG)"/>
<line x1="718.0" y1="499.0" x2="717.8" y2="502.0" stroke="#0a0a0a" stroke-width="2"/>
<path d="M721.3 498.4 A3.3 3.3 0 1 1 718.6 495.7" fill="none" stroke="#b8b8b8" stroke-width="1.4"/>
<circle cx="717.8" cy="502.0" r="2.9" fill="url(#ballG)"/>
<line x1="744.0" y1="499.0" x2="748.4" y2="502.0" stroke="#0a0a0a" stroke-width="2"/>
<path d="M747.3 498.4 A3.3 3.3 0 1 1 744.6 495.7" fill="none" stroke="#b8b8b8" stroke-width="1.4"/>
<circle cx="748.4" cy="502.0" r="2.9" fill="url(#ballG)"/>
<line x1="770.0" y1="499.0" x2="775.0" y2="502.0" stroke="#0a0a0a" stroke-width="2"/>
<path d="M773.3 498.4 A3.3 3.3 0 1 1 770.6 495.7" fill="none" stroke="#b8b8b8" stroke-width="1.4"/>
<circle cx="775.0" cy="502.0" r="2.9" fill="url(#ballG)"/>
<line x1="637.0" y1="512.0" x2="630.7" y2="515.0" stroke="#0a0a0a" stroke-width="2"/>
<path d="M640.3 511.4 A3.3 3.3 0 1 1 637.6 508.7" fill="none" stroke="#b8b8b8" stroke-width="1.4"/>
<circle cx="630.7" cy="515.0" r="2.9" fill="url(#ballG)"/>
<line x1="663.0" y1="512.0" x2="657.3" y2="515.0" stroke="#0a0a0a" stroke-width="2"/>
<path d="M666.3 511.4 A3.3 3.3 0 1 1 663.6 508.7" fill="none" stroke="#b8b8b8" stroke-width="1.4"/>
<circle cx="657.3" cy="515.0" r="2.9" fill="url(#ballG)"/>
<line x1="688.0" y1="512.0" x2="686.8" y2="515.0" stroke="#0a0a0a" stroke-width="2"/>
<path d="M691.3 511.4 A3.3 3.3 0 1 1 688.6 508.7" fill="none" stroke="#b8b8b8" stroke-width="1.4"/>
<circle cx="686.8" cy="515.0" r="2.9" fill="url(#ballG)"/>
<line x1="714.0" y1="512.0" x2="713.4" y2="515.0" stroke="#0a0a0a" stroke-width="2"/>
<path d="M717.3 511.4 A3.3 3.3 0 1 1 714.6 508.7" fill="none" stroke="#b8b8b8" stroke-width="1.4"/>
<circle cx="713.4" cy="515.0" r="2.9" fill="url(#ballG)"/>
<line x1="740.0" y1="512.0" x2="744.0" y2="515.0" stroke="#0a0a0a" stroke-width="2"/>
<path d="M743.3 511.4 A3.3 3.3 0 1 1 740.6 508.7" fill="none" stroke="#b8b8b8" stroke-width="1.4"/>
<circle cx="744.0" cy="515.0" r="2.9" fill="url(#ballG)"/>
<line x1="589" y1="262" x2="612" y2="268" stroke="#111" stroke-width="2.4"/>
<circle cx="588.0" cy="261.0" r="2.9" fill="url(#ballG)"/>
<line x1="589" y1="284" x2="612" y2="290" stroke="#111" stroke-width="2.4"/>
<circle cx="588.0" cy="283.0" r="2.9" fill="url(#ballG)"/>
<line x1="589" y1="305" x2="612" y2="311" stroke="#111" stroke-width="2.4"/>
<circle cx="588.0" cy="304.0" r="2.9" fill="url(#ballG)"/>
<line x1="589" y1="326" x2="612" y2="332" stroke="#111" stroke-width="2.4"/>
<circle cx="588.0" cy="325.0" r="2.9" fill="url(#ballG)"/>
<line x1="589" y1="348" x2="612" y2="354" stroke="#111" stroke-width="2.4"/>
<circle cx="588.0" cy="347.0" r="2.9" fill="url(#ballG)"/>
<line x1="589" y1="369" x2="612" y2="375" stroke="#111" stroke-width="2.4"/>
<circle cx="588.0" cy="368.0" r="2.9" fill="url(#ballG)"/>
<line x1="589" y1="390" x2="612" y2="396" stroke="#111" stroke-width="2.4"/>
<circle cx="588.0" cy="389.0" r="2.9" fill="url(#ballG)"/>
<line x1="589" y1="411" x2="612" y2="417" stroke="#111" stroke-width="2.4"/>
<circle cx="588.0" cy="410.0" r="2.9" fill="url(#ballG)"/>
<line x1="589" y1="432" x2="612" y2="438" stroke="#111" stroke-width="2.4"/>
<circle cx="588.0" cy="431.0" r="2.9" fill="url(#ballG)"/>
<line x1="589" y1="453" x2="612" y2="459" stroke="#111" stroke-width="2.4"/>
<circle cx="588.0" cy="452.0" r="2.9" fill="url(#ballG)"/>
<line x1="589" y1="474" x2="612" y2="480" stroke="#111" stroke-width="2.4"/>
<circle cx="588.0" cy="473.0" r="2.9" fill="url(#ballG)"/>
<line x1="768" y1="330" x2="795" y2="323" stroke="#111" stroke-width="2.4"/>
<circle cx="796.0" cy="322.0" r="2.9" fill="url(#ballG)"/>
<line x1="768" y1="350" x2="795" y2="343" stroke="#111" stroke-width="2.4"/>
<circle cx="796.0" cy="342.0" r="2.9" fill="url(#ballG)"/>
<line x1="768" y1="370" x2="795" y2="363" stroke="#111" stroke-width="2.4"/>
<circle cx="796.0" cy="362.0" r="2.9" fill="url(#ballG)"/>
<line x1="768" y1="392" x2="795" y2="385" stroke="#111" stroke-width="2.4"/>
<circle cx="796.0" cy="384.0" r="2.9" fill="url(#ballG)"/>
<line x1="768" y1="414" x2="795" y2="407" stroke="#111" stroke-width="2.4"/>
<circle cx="796.0" cy="406.0" r="2.9" fill="url(#ballG)"/>
<line x1="768" y1="437" x2="795" y2="430" stroke="#111" stroke-width="2.4"/>
<circle cx="796.0" cy="429.0" r="2.9" fill="url(#ballG)"/>
<line x1="768" y1="458" x2="795" y2="451" stroke="#111" stroke-width="2.4"/>
<circle cx="796.0" cy="450.0" r="2.9" fill="url(#ballG)"/>
<line x1="768" y1="480" x2="795" y2="473" stroke="#111" stroke-width="2.4"/>
<circle cx="796.0" cy="472.0" r="2.9" fill="url(#ballG)"/>
<line x1="603" y1="227" x2="604" y2="249" stroke="#1a1a1a" stroke-width="2.6"/>
<circle cx="603.0" cy="227.0" r="2.8" fill="url(#ballG)"/>
<line x1="623.5" y1="206" x2="624.5" y2="228" stroke="#1a1a1a" stroke-width="2.6"/>
<circle cx="623.5" cy="206.0" r="2.8" fill="url(#ballG)"/>
<line x1="644.5" y1="201.5" x2="645.5" y2="223.5" stroke="#1a1a1a" stroke-width="2.6"/>
<circle cx="644.5" cy="201.5" r="2.8" fill="url(#ballG)"/>
<line x1="670" y1="192.5" x2="671" y2="214.5" stroke="#1a1a1a" stroke-width="2.6"/>
<circle cx="670.0" cy="192.5" r="2.8" fill="url(#ballG)"/>
</g>
<g id="cover">
  <rect x="556.5" y="622.7" width="15" height="43.3" rx="2" fill="#1c1c1c" stroke="#2a2a2a"/>
  <rect x="796" y="627" width="36" height="36" rx="2" fill="#1e1e1e"/>
  <path d="M803 628 v34 M810 628 v34 M817 628 v34 M824 628 v34" stroke="#3c3c3c" stroke-width="1.5"/>
  <rect x="565.4" y="589.2" width="231.9" height="111" rx="5" fill="#1b1b1b"/>
  <rect x="571.4" y="595.2" width="219.9" height="99" rx="2" fill="#131313" stroke="#2c2c2c" stroke-width="1.5"/>
  <line x1="623.7" y1="595" x2="623.7" y2="695" stroke="#303030" stroke-width="2.5"/>
  <line x1="740" y1="595" x2="740" y2="695" stroke="#303030" stroke-width="2.5"/>
  <line x1="571" y1="644.4" x2="791" y2="644.4" stroke="#303030" stroke-width="2.5"/>
  <circle cx="775" cy="609" r="11" fill="#262626"/><circle cx="775" cy="679" r="11" fill="#262626"/>
</g>
<g id="circ1">
<circle cx="791.7" cy="175" r="126.5" fill="#fff"/>
<g clip-path="url(#c1)">
<path d="M660 178 C700 172 730 168 760 165 L780 200 C740 210 700 212 660 215 Z" fill="url(#shadeG)"/>
<path d="M720 200 C800 190 860 170 930 145 L930 168 C860 190 800 210 722 242 Z" fill="#e8e8e8"/>
<path d="M660 209 L721 210 L712 227 L686 237 L660 252 Z" fill="url(#mesh2)"/>
<path d="M721 210 L730 214 L727 244 L712 275 L700 268 L686 237 L712 227 Z" fill="#f2f2f2"/>
<path d="M722 242 C740 232 760 228 800 216 C850 203 890 185 930 160 L930 320 L700 320 L712 275 Z" fill="url(#mesh2)"/>
<line x1="670" y1="193" x2="668" y2="209" stroke="#222" stroke-width="3"/>
<circle cx="670.0" cy="193.0" r="3.2" fill="url(#ballG)"/>
<line x1="693" y1="192" x2="691" y2="208" stroke="#222" stroke-width="3"/>
<circle cx="693.0" cy="192.0" r="3.2" fill="url(#ballG)"/>
<line x1="715.5" y1="193" x2="713.5" y2="209" stroke="#222" stroke-width="3"/>
<circle cx="715.5" cy="193.0" r="3.2" fill="url(#ballG)"/>
<circle cx="802.0" cy="233.0" r="3.6" fill="url(#ballG)"/>
<circle cx="837.6" cy="215.5" r="3.6" fill="url(#ballG)"/>
<circle cx="865.0" cy="234.0" r="3.6" fill="url(#ballG)"/>
<circle cx="879.6" cy="198.7" r="3.6" fill="url(#ballG)"/>
<circle cx="904.8" cy="215.5" r="3.6" fill="url(#ballG)"/>
<circle cx="915.0" cy="171.0" r="3.6" fill="url(#ballG)"/>
<circle cx="823.0" cy="255.4" r="3.6" fill="url(#ballG)"/>
<circle cx="804.0" cy="287.0" r="3.6" fill="url(#ballG)"/>
<circle cx="760.0" cy="255.0" r="3.6" fill="url(#ballG)"/>
<circle cx="675.0" cy="218.0" r="3.6" fill="url(#ballG)"/>
<circle cx="690.0" cy="214.0" r="3.6" fill="url(#ballG)"/>
<circle cx="740.0" cy="285.0" r="3.6" fill="url(#ballG)"/>
<circle cx="885.0" cy="255.0" r="3.6" fill="url(#ballG)"/>
<circle cx="870.0" cy="240.0" r="3.6" fill="url(#ballG)"/>
<circle cx="900.0" cy="245.0" r="3.6" fill="url(#ballG)"/>
<line x1="853.0" y1="50.0" x2="885.0" y2="205.0" stroke="#4a4a4a" stroke-width="6.5"/><line x1="851.7" y1="50.3" x2="883.7" y2="205.3" stroke="#9a9a9a" stroke-width="2.47"/><line x1="855.3" y1="49.5" x2="887.3" y2="204.5" stroke="#1e1e1e" stroke-width="1.82"/>
<line x1="880.0" y1="75.0" x2="905.0" y2="215.0" stroke="#4a4a4a" stroke-width="6.5"/><line x1="878.7" y1="75.2" x2="903.7" y2="215.2" stroke="#9a9a9a" stroke-width="2.47"/><line x1="882.3" y1="74.6" x2="907.3" y2="214.6" stroke="#1e1e1e" stroke-width="1.82"/>
<line x1="905.0" y1="117.0" x2="916.0" y2="170.0" stroke="#4a4a4a" stroke-width="6.5"/><line x1="903.7" y1="117.3" x2="914.7" y2="170.3" stroke="#9a9a9a" stroke-width="2.47"/><line x1="907.3" y1="116.5" x2="918.3" y2="169.5" stroke="#1e1e1e" stroke-width="1.82"/>
<line x1="767.5" y1="85.0" x2="800.0" y2="232.0" stroke="#4a4a4a" stroke-width="6.5"/><line x1="766.2" y1="85.3" x2="798.7" y2="232.3" stroke="#9a9a9a" stroke-width="2.47"/><line x1="769.8" y1="84.5" x2="802.3" y2="231.5" stroke="#1e1e1e" stroke-width="1.82"/><circle cx="767.5" cy="85.0" r="6.2" fill="url(#ballG)"/>
<line x1="805.0" y1="63.0" x2="840.0" y2="215.0" stroke="#4a4a4a" stroke-width="6.5"/><line x1="803.7" y1="63.3" x2="838.7" y2="215.3" stroke="#9a9a9a" stroke-width="2.47"/><line x1="807.3" y1="62.5" x2="842.3" y2="214.5" stroke="#1e1e1e" stroke-width="1.82"/><circle cx="805.0" cy="63.0" r="6.2" fill="url(#ballG)"/>
<line x1="825.5" y1="85.0" x2="865.0" y2="232.0" stroke="#4a4a4a" stroke-width="6.5"/><line x1="824.2" y1="85.3" x2="863.7" y2="232.3" stroke="#9a9a9a" stroke-width="2.47"/><line x1="827.8" y1="84.4" x2="867.3" y2="231.4" stroke="#1e1e1e" stroke-width="1.82"/><circle cx="825.5" cy="85.0" r="6.2" fill="url(#ballG)"/>
<line x1="782.0" y1="119.0" x2="814.0" y2="255.0" stroke="#4a4a4a" stroke-width="6.5"/><line x1="780.7" y1="119.3" x2="812.7" y2="255.3" stroke="#9a9a9a" stroke-width="2.47"/><line x1="784.3" y1="118.5" x2="816.3" y2="254.5" stroke="#1e1e1e" stroke-width="1.82"/><circle cx="782.0" cy="119.0" r="6.2" fill="url(#ballG)"/>
<line x1="872.0" y1="122.0" x2="905.0" y2="228.0" stroke="#4a4a4a" stroke-width="6.5"/><line x1="870.8" y1="122.4" x2="903.8" y2="228.4" stroke="#9a9a9a" stroke-width="2.47"/><line x1="874.2" y1="121.3" x2="907.2" y2="227.3" stroke="#1e1e1e" stroke-width="1.82"/><circle cx="872.0" cy="122.0" r="6.2" fill="url(#ballG)"/>
<line x1="717.3" y1="121.8" x2="758.0" y2="262.0" stroke="#4a4a4a" stroke-width="6.5"/><line x1="716.1" y1="122.2" x2="756.8" y2="262.4" stroke="#9a9a9a" stroke-width="2.47"/><line x1="719.5" y1="121.1" x2="760.2" y2="261.3" stroke="#1e1e1e" stroke-width="1.82"/><circle cx="717.3" cy="121.8" r="6.2" fill="url(#ballG)"/>
<line x1="689.6" y1="163.5" x2="737.7" y2="300.0" stroke="#4a4a4a" stroke-width="6.5"/><line x1="688.4" y1="163.9" x2="736.5" y2="300.4" stroke="#9a9a9a" stroke-width="2.47"/><line x1="691.8" y1="162.7" x2="739.9" y2="299.2" stroke="#1e1e1e" stroke-width="1.82"/><circle cx="689.6" cy="163.5" r="6.2" fill="url(#ballG)"/>
<line x1="764.5" y1="161.0" x2="806.0" y2="305.0" stroke="#4a4a4a" stroke-width="6.5"/><line x1="763.3" y1="161.4" x2="804.8" y2="305.4" stroke="#9a9a9a" stroke-width="2.47"/><line x1="766.7" y1="160.4" x2="808.2" y2="304.4" stroke="#1e1e1e" stroke-width="1.82"/><circle cx="764.5" cy="161.0" r="6.2" fill="url(#ballG)"/>
<line x1="831.0" y1="156.0" x2="869.0" y2="280.0" stroke="#4a4a4a" stroke-width="6.5"/><line x1="829.8" y1="156.4" x2="867.8" y2="280.4" stroke="#9a9a9a" stroke-width="2.47"/><line x1="833.2" y1="155.3" x2="871.2" y2="279.3" stroke="#1e1e1e" stroke-width="1.82"/><circle cx="831.0" cy="156.0" r="6.2" fill="url(#ballG)"/>
<line x1="778.4" y1="197.0" x2="808.0" y2="305.0" stroke="#4a4a4a" stroke-width="6.5"/><line x1="777.1" y1="197.3" x2="806.7" y2="305.3" stroke="#9a9a9a" stroke-width="2.47"/><line x1="780.7" y1="196.4" x2="810.3" y2="304.4" stroke="#1e1e1e" stroke-width="1.82"/><circle cx="778.4" cy="197.0" r="6.2" fill="url(#ballG)"/>
<line x1="869.0" y1="203.0" x2="882.0" y2="262.0" stroke="#4a4a4a" stroke-width="6.5"/><line x1="867.7" y1="203.3" x2="880.7" y2="262.3" stroke="#9a9a9a" stroke-width="2.47"/><line x1="871.3" y1="202.5" x2="884.3" y2="261.5" stroke="#1e1e1e" stroke-width="1.82"/><circle cx="869.0" cy="203.0" r="6.2" fill="url(#ballG)"/>
<line x1="690.5" y1="210.6" x2="725.0" y2="310.0" stroke="#4a4a4a" stroke-width="6.5"/><line x1="689.3" y1="211.0" x2="723.8" y2="310.4" stroke="#9a9a9a" stroke-width="2.47"/><line x1="692.7" y1="209.8" x2="727.2" y2="309.2" stroke="#1e1e1e" stroke-width="1.82"/><circle cx="690.5" cy="210.6" r="6.2" fill="url(#ballG)"/>
<line x1="714.6" y1="244.0" x2="740.0" y2="310.0" stroke="#4a4a4a" stroke-width="6.5"/><line x1="713.4" y1="244.5" x2="738.8" y2="310.5" stroke="#9a9a9a" stroke-width="2.47"/><line x1="716.8" y1="243.2" x2="742.2" y2="309.2" stroke="#1e1e1e" stroke-width="1.82"/><circle cx="714.6" cy="244.0" r="6.2" fill="url(#ballG)"/>
<line x1="814.6" y1="228.0" x2="832.0" y2="305.0" stroke="#4a4a4a" stroke-width="6.5"/><line x1="813.3" y1="228.3" x2="830.7" y2="305.3" stroke="#9a9a9a" stroke-width="2.47"/><line x1="816.9" y1="227.5" x2="834.3" y2="304.5" stroke="#1e1e1e" stroke-width="1.82"/><circle cx="814.6" cy="228.0" r="6.2" fill="url(#ballG)"/>
<line x1="750.6" y1="269.0" x2="762.0" y2="310.0" stroke="#4a4a4a" stroke-width="6.5"/><line x1="749.3" y1="269.3" x2="760.7" y2="310.3" stroke="#9a9a9a" stroke-width="2.47"/><line x1="752.9" y1="268.4" x2="764.3" y2="309.4" stroke="#1e1e1e" stroke-width="1.82"/><circle cx="750.6" cy="269.0" r="6.2" fill="url(#ballG)"/>
<line x1="852.0" y1="276.4" x2="858.0" y2="310.0" stroke="#4a4a4a" stroke-width="6.5"/><line x1="850.7" y1="276.6" x2="856.7" y2="310.2" stroke="#9a9a9a" stroke-width="2.47"/><line x1="854.3" y1="276.0" x2="860.3" y2="309.6" stroke="#1e1e1e" stroke-width="1.82"/><circle cx="852.0" cy="276.4" r="6.2" fill="url(#ballG)"/>
</g>
<circle cx="791.7" cy="175" r="126.5" fill="none" stroke="#e9673a" stroke-width="1.4"/>
</g>
<g id="circ2">
<circle cx="155.8" cy="797.7" r="126.5" fill="url(#body2G)"/>
<g clip-path="url(#c2)">
<path d="M118 678 C168 678 214 694 246 722 C270 746 281 782 284 830" fill="none" stroke="#3a3a3a" stroke-width="6" opacity="0.8"/>
<path d="M122 684 C170 685 210 700 240 726 C262 748 274 782 277 830" fill="none" stroke="#202020" stroke-width="2" opacity="0.6"/>
<path d="M141 730 C143 725 147 723 152 723 C158 722 166 721 178 725 C190 729 205 740 216 756 C224 768 228 780 229 795 L228 812 L213 812 C211 800 208 790 204 782 C198 770 190 762 182 757 C172 751 160 747 150 745 L142 742 C140 738 140 733 141 730 Z" fill="#050505"/>
<path d="M20 760 L47 773 C62 780 75 790 90 801 C100 810 108 818 118 829 C126 840 133 850 140 863 C147 873 152 884 157 896 L168 930 L20 930 Z" fill="url(#mesh2)"/>
<path d="M20 728 L56 740 C80 752 98 770 112 784 C128 800 138 808 146 818 C160 836 170 850 177 863 C185 878 190 890 194 897 L204 925 L165 925 C162 912 160 905 157 896 C152 884 147 873 140 863 C133 850 126 840 118 829 C108 818 100 810 90 801 C75 790 62 780 47 773 L20 765 Z" fill="url(#bandG)"/>
<circle cx="41.0" cy="788.6" r="3.4" fill="url(#ballG)"/>
<circle cx="70.4" cy="815.0" r="3.4" fill="url(#ballG)"/>
<circle cx="50.8" cy="848.8" r="3.4" fill="url(#ballG)"/>
<circle cx="70.4" cy="879.6" r="3.4" fill="url(#ballG)"/>
<circle cx="95.6" cy="843.0" r="3.4" fill="url(#ballG)"/>
<circle cx="108.2" cy="868.4" r="3.4" fill="url(#ballG)"/>
<circle cx="126.4" cy="902.0" r="3.4" fill="url(#ballG)"/>
<circle cx="150.0" cy="905.0" r="3.4" fill="url(#ballG)"/>
<line x1="104.0" y1="670.0" x2="70.0" y2="790.0" stroke="#5e5e5e" stroke-width="7"/><line x1="102.7" y1="669.6" x2="68.7" y2="789.6" stroke="#a8a8a8" stroke-width="2.66"/><line x1="106.4" y1="670.7" x2="72.4" y2="790.7" stroke="#262626" stroke-width="1.96"/>
<line x1="115.0" y1="668.0" x2="82.0" y2="770.0" stroke="#5e5e5e" stroke-width="7"/><line x1="113.7" y1="667.6" x2="80.7" y2="769.6" stroke="#a8a8a8" stroke-width="2.66"/><line x1="117.4" y1="668.8" x2="84.4" y2="770.8" stroke="#262626" stroke-width="1.96"/>
<line x1="87.8" y1="709.6" x2="55.0" y2="840.0" stroke="#5e5e5e" stroke-width="7"/><line x1="86.4" y1="709.3" x2="53.6" y2="839.7" stroke="#a8a8a8" stroke-width="2.66"/><line x1="90.2" y1="710.2" x2="57.4" y2="840.6" stroke="#262626" stroke-width="1.96"/><circle cx="87.8" cy="709.6" r="6.5" fill="url(#ballG)"/>
<line x1="132.0" y1="702.5" x2="95.0" y2="830.0" stroke="#5e5e5e" stroke-width="7"/><line x1="130.7" y1="702.1" x2="93.7" y2="829.6" stroke="#a8a8a8" stroke-width="2.66"/><line x1="134.4" y1="703.2" x2="97.4" y2="830.7" stroke="#262626" stroke-width="1.96"/><circle cx="132.0" cy="702.5" r="6.5" fill="url(#ballG)"/>
<line x1="57.9" y1="727.8" x2="30.0" y2="820.0" stroke="#5e5e5e" stroke-width="7"/><line x1="56.6" y1="727.4" x2="28.7" y2="819.6" stroke="#a8a8a8" stroke-width="2.66"/><line x1="60.3" y1="728.5" x2="32.4" y2="820.7" stroke="#262626" stroke-width="1.96"/><circle cx="57.9" cy="727.8" r="6.5" fill="url(#ballG)"/>
<line x1="113.0" y1="746.6" x2="80.0" y2="880.0" stroke="#5e5e5e" stroke-width="7"/><line x1="111.6" y1="746.3" x2="78.6" y2="879.7" stroke="#a8a8a8" stroke-width="2.66"/><line x1="115.4" y1="747.2" x2="82.4" y2="880.6" stroke="#262626" stroke-width="1.96"/><circle cx="113.0" cy="746.6" r="6.5" fill="url(#ballG)"/>
<line x1="172.6" y1="738.0" x2="126.4" y2="870.0" stroke="#5e5e5e" stroke-width="7"/><line x1="171.3" y1="737.5" x2="125.1" y2="869.5" stroke="#a8a8a8" stroke-width="2.66"/><line x1="175.0" y1="738.8" x2="128.8" y2="870.8" stroke="#262626" stroke-width="1.96"/><circle cx="172.6" cy="738.0" r="6.5" fill="url(#ballG)"/>
<line x1="193.6" y1="784.4" x2="140.4" y2="912.0" stroke="#5e5e5e" stroke-width="7"/><line x1="192.3" y1="783.9" x2="139.1" y2="911.5" stroke="#a8a8a8" stroke-width="2.66"/><line x1="195.9" y1="785.4" x2="142.7" y2="913.0" stroke="#262626" stroke-width="1.96"/><circle cx="193.6" cy="784.4" r="6.5" fill="url(#ballG)"/>
<line x1="106.8" y1="792.8" x2="76.0" y2="905.0" stroke="#5e5e5e" stroke-width="7"/><line x1="105.4" y1="792.4" x2="74.6" y2="904.6" stroke="#a8a8a8" stroke-width="2.66"/><line x1="109.2" y1="793.5" x2="78.4" y2="905.7" stroke="#262626" stroke-width="1.96"/><circle cx="106.8" cy="792.8" r="6.5" fill="url(#ballG)"/>
<line x1="60.6" y1="812.4" x2="40.0" y2="880.0" stroke="#5e5e5e" stroke-width="7"/><line x1="59.3" y1="812.0" x2="38.7" y2="879.6" stroke="#a8a8a8" stroke-width="2.66"/><line x1="63.0" y1="813.1" x2="42.4" y2="880.7" stroke="#262626" stroke-width="1.96"/><circle cx="60.6" cy="812.4" r="6.5" fill="url(#ballG)"/>
<line x1="126.4" y1="851.6" x2="104.0" y2="920.0" stroke="#5e5e5e" stroke-width="7"/><line x1="125.1" y1="851.2" x2="102.7" y2="919.6" stroke="#a8a8a8" stroke-width="2.66"/><line x1="128.8" y1="852.4" x2="106.4" y2="920.8" stroke="#262626" stroke-width="1.96"/><circle cx="126.4" cy="851.6" r="6.5" fill="url(#ballG)"/>
<line x1="92.8" y1="871.2" x2="81.6" y2="920.0" stroke="#5e5e5e" stroke-width="7"/><line x1="91.4" y1="870.9" x2="80.2" y2="919.7" stroke="#a8a8a8" stroke-width="2.66"/><line x1="95.3" y1="871.8" x2="84.1" y2="920.6" stroke="#262626" stroke-width="1.96"/><circle cx="92.8" cy="871.2" r="6.5" fill="url(#ballG)"/>
<line x1="185.2" y1="826.4" x2="165.0" y2="880.0" stroke="#5e5e5e" stroke-width="7"/><line x1="183.9" y1="825.9" x2="163.7" y2="879.5" stroke="#a8a8a8" stroke-width="2.66"/><line x1="187.6" y1="827.3" x2="167.4" y2="880.9" stroke="#262626" stroke-width="1.96"/><circle cx="185.2" cy="826.4" r="6.5" fill="url(#ballG)"/>
</g>
<circle cx="155.8" cy="797.7" r="126.5" fill="none" stroke="#e9673a" stroke-width="1.4"/>
</g>
<polyline points="373.4,89.4 373.4,193.4" fill="none" stroke="#e9673a" stroke-width="1.3"/>
<circle cx="373.4" cy="89.4" r="5.5" fill="#e9673a"/>
<circle cx="373.4" cy="193.4" r="5.5" fill="#e9673a"/>
<polyline points="124.4,188.6 124.4,238.6 334.6,238.6" fill="none" stroke="#e9673a" stroke-width="1.3"/>
<circle cx="124.4" cy="188.6" r="5.5" fill="#e9673a"/>
<circle cx="334.6" cy="238.6" r="5.5" fill="#e9673a"/>
<polyline points="111.6,399.3 111.6,443.5 323,443.5" fill="none" stroke="#e9673a" stroke-width="1.3"/>
<circle cx="111.6" cy="399.3" r="5.5" fill="#e9673a"/>
<circle cx="323" cy="443.5" r="5.5" fill="#e9673a"/>
<polyline points="72,567.5 72,597 216.8,597" fill="none" stroke="#e9673a" stroke-width="1.3"/>
<circle cx="72" cy="567.5" r="5.5" fill="#e9673a"/>
<circle cx="216.8" cy="597" r="5.5" fill="#e9673a"/>
<polyline points="140.8,669 140.8,619.5 372.6,619.5 372.6,632.8" fill="none" stroke="#e9673a" stroke-width="1.3"/>
<circle cx="140.8" cy="669" r="5.5" fill="#e9673a"/>
<circle cx="372.6" cy="632.8" r="5.5" fill="#e9673a"/>
<text transform="translate(94.17 96.30) scale(1.0174 1.15)" fill="#000">Negative ion mouth</text>
<text transform="translate(28.17 170.60) scale(1.0174 1.15)" fill="#000">Remove button</text>
<text transform="translate(26.87 302.30) scale(1.0174 1.15)" fill="#000">Battery Bin</text>
<text transform="translate(15.03 346.60) scale(0.9979 1.15)" fill="#000">(</text><text transform="translate(26.40 346.60) scale(0.9979 1.15)" fill="#000">2*AAA Battery)</text>
<text transform="translate(15.03 386.80) scale(0.9979 1.15)" fill="#f50000">(</text><text transform="translate(26.40 386.80) scale(0.9979 1.15)" fill="#f50000">NOT INCLUDED)</text>
<text transform="translate(26.15 556.20) scale(1.0174 1.15)" fill="#000">LED-Switch</text>
<text transform="translate(828.58 347.00) scale(1.0174 1.15)" fill="#000">Comb teeth</text>
<text transform="translate(589.39 774.10) scale(1.0035 1.15)" fill="#000">Battery Cover</text>
<text transform="translate(281.87 900.60) scale(1.0174 1.15)" fill="#000">Negative ion mouth</text>
</svg>
</body></html>
